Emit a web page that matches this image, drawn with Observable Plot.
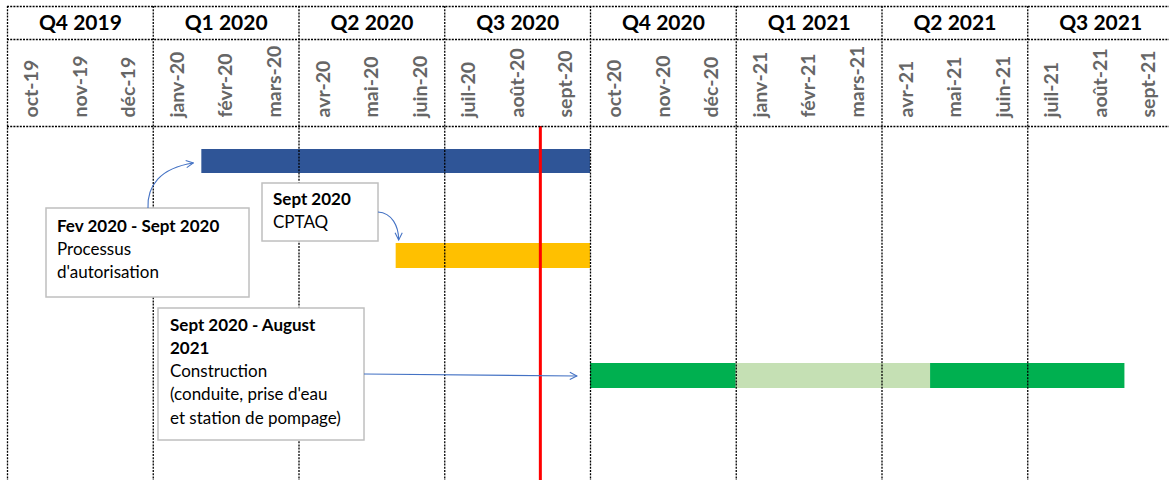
<!DOCTYPE html>
<html>
<head>
<meta charset="utf-8">
<script src="https://cdn.jsdelivr.net/npm/d3@7"></script>
<script src="https://cdn.jsdelivr.net/npm/@observablehq/plot@0.6"></script>
<style>
  html, body { margin: 0; padding: 0; background: #fff; }
  #chart svg { display: block; font-family: Lato, "Open Sans", sans-serif; }
</style>
</head>
<body>
<div id="chart"></div>
<script>
// ---------- DATA ----------
const quarterLabels = ["Q4 2019", "Q1 2020", "Q2 2020", "Q3 2020", "Q4 2020", "Q1 2021", "Q2 2021", "Q3 2021"];
const monthLabels = ["oct-19", "nov-19", "déc-19", "janv-20", "févr-20", "mars-20", "avr-20", "mai-20", "juin-20",
  "juil-20", "août-20", "sept-20", "oct-20", "nov-20", "déc-20", "janv-21", "févr-21", "mars-21",
  "avr-21", "mai-21", "juin-21", "juil-21", "août-21", "sept-21"];
const timelineStart = "2019-10-01";
const timelineEnd = "2021-10-01";

const taskNames = ["Processus d'autorisation", "CPTAQ", "Construction"];
const segTask  = [0, 1, 2, 2, 2];
const segPhase = ["autorisation", "cptaq", "construction", "pause", "construction"];
const segStart = ["2020-02-01", "2020-06-01", "2020-10-01", "2021-01-01", "2021-05-01"];
const segEnd   = ["2020-10-01", "2020-10-01", "2021-01-01", "2021-05-01", "2021-09-01"];

const todayDate = "2020-08-31";

const noteTitles = [["Fev 2020 - Sept 2020"], ["Sept 2020"], ["Sept 2020 - August", "2021"]];
const noteBodies = [["Processus", "d'autorisation"], ["CPTAQ"], ["Construction", "(conduite, prise d'eau", "et station de pompage)"]];

// ---------- STYLE / LAYOUT ----------
const phaseColor = {autorisation: "#2F5597", cptaq: "#FFC000", construction: "#00B050", pause: "#C5E0B4"};
const W = 1169, H = 480;
const rowY = [[149, 173], [243, 268], [363, 388]];
const headTop = 6, headMid = 39, headBottom = 126;

// Timeline axis with equal-width month columns (as in the source Gantt sheet):
// a date maps to "months since timelineStart" (fractional within the month).
const d = s => new Date(s + "T00:00:00Z");
const t0 = d(timelineStart);
const toM = date => {
  const m = (date.getUTCFullYear() - t0.getUTCFullYear()) * 12 + date.getUTCMonth() - t0.getUTCMonth();
  const ms = Date.UTC(date.getUTCFullYear(), date.getUTCMonth(), 1);
  const me = Date.UTC(date.getUTCFullYear(), date.getUTCMonth() + 1, 1);
  return m + (date - ms) / (me - ms);
};
const nMonths = toM(d(timelineEnd));

const monthData = monthLabels.map((label, i) => ({label, m: i + 0.5}));
const quarterData = quarterLabels.map((label, i) => ({label, m: i * 3 + 1.5}));
const boundaries = d3.range(0, nMonths + 1, 3);

const segs = segStart.map((s, i) => ({
  task: taskNames[segTask[i]], phase: segPhase[i], start: toM(d(s)), end: toM(d(segEnd[i])),
  y1: rowY[segTask[i]][0], y2: rowY[segTask[i]][1]
}));

const dotted = {stroke: "#000", strokeWidth: 1.3, strokeDasharray: "2,1.2"};

const plot = Plot.plot({
  width: W, height: H,
  marginTop: 0, marginRight: 0, marginBottom: 0, marginLeft: 0,
  style: {background: "#fff", fontFamily: "Lato, sans-serif"},
  x: {type: "linear", domain: [0, nMonths], range: [7, 1173], axis: null},
  y: {type: "identity", axis: null},
  marks: [
    Plot.rectX(segs, {x1: "start", x2: "end", y1: "y1", y2: "y2", fill: s => phaseColor[s.phase]}),
    Plot.ruleX([toM(d(todayDate))], {y1: headBottom, y2: H, stroke: "#FF0000", strokeWidth: 3}),
    Plot.ruleX(boundaries, {y1: headTop, y2: H, ...dotted}),
    Plot.ruleY([headTop, headMid, headBottom], {x1: 0, x2: nMonths, ...dotted}),
    Plot.text(quarterData, {x: "m", y: 23, text: "label", fontSize: 21, fontWeight: "bold", fill: "#000", lineAnchor: "middle"}),
    Plot.text(monthData, {x: "m", y: 117, text: "label", rotate: -90, textAnchor: "start", lineAnchor: "middle", fontSize: 19.5, fontWeight: "bold", fill: "#666"})
  ]
});
document.getElementById("chart").appendChild(plot);

// ---------- ANNOTATIONS ----------
const xs = plot.scale("x");
const x = v => xs.apply(v);
const svg = d3.select(plot);
const defs = svg.append("defs");
defs.append("marker").attr("id", "arr").attr("viewBox", "0 0 10 10").attr("refX", 9).attr("refY", 5)
  .attr("markerWidth", 9).attr("markerHeight", 9).attr("markerUnits", "userSpaceOnUse").attr("orient", "auto")
  .append("path").attr("d", "M1,1 L9,5 L1,9").attr("fill", "none").attr("stroke", "#4472C4").attr("stroke-width", 1.2);

const notes = [
  {box: [46, 208, 203, 89], tx: 11, ty: 23.5},
  {box: [262, 183, 116, 58], tx: 11, ty: 21.5},
  {box: [158, 308, 206, 132], tx: 12, ty: 22.5}
];
const lineH = 23.3;
const g = svg.append("g").attr("text-anchor", "start");

const xa = x(segs[0].start), xb = x(segs[1].start), xc = x(segs[2].start);
const arrows = [
  `M148,208 C147,186 160,168 ${xa - 8},163`,
  `M378,212 C392,213 ${xb + 3},226 ${xb + 3},${rowY[1][0] - 3}`,
  `M364,374 L${xc - 13},376`
];

notes.forEach((n, i) => {
  const [bx, by, bw, bh] = n.box;
  g.append("rect").attr("x", bx).attr("y", by).attr("width", bw).attr("height", bh)
    .attr("fill", "#fff").attr("stroke", "#BFBFBF").attr("stroke-width", 1.5);
  const lines = noteTitles[i].map(t => ({t, bold: true})).concat(noteBodies[i].map(t => ({t, bold: false})));
  lines.forEach((l, j) => {
    g.append("text").attr("x", bx + n.tx).attr("y", by + n.ty + j * lineH)
      .attr("text-anchor", "start")
      .attr("font-size", 17).attr("font-weight", l.bold ? "bold" : "normal")
      .attr("fill", "#000").attr("font-family", "Lato, sans-serif").text(l.t);
  });
});
arrows.forEach(p => {
  g.append("path").attr("d", p).attr("fill", "none").attr("stroke", "#4472C4").attr("stroke-width", 1.1)
    .attr("marker-end", "url(#arr)");
});
</script>
</body>
</html>
